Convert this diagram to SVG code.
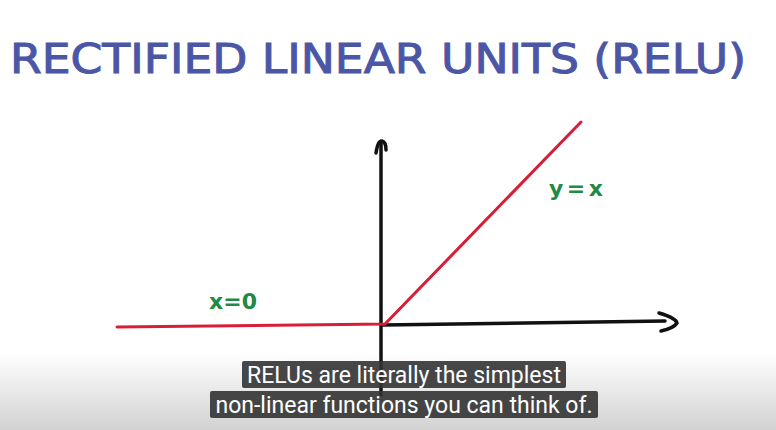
<svg xmlns="http://www.w3.org/2000/svg" width="776" height="430" viewBox="0 0 776 430">
<defs>
<linearGradient id="bg" x1="0" y1="0" x2="0" y2="1">
<stop offset="0" stop-color="#ffffff"/>
<stop offset="0.82" stop-color="#ffffff"/>
<stop offset="1" stop-color="#d2d2d2"/>
</linearGradient>
</defs>
<style>
.title{font-family:"DejaVu Sans",sans-serif;font-size:40px;fill:#4b57a6;stroke:#4b57a6;stroke-width:1;}
.lbl{font-family:"DejaVu Sans",sans-serif;font-weight:bold;font-size:22px;fill:#1f8a45;}
.axis{stroke:#111;stroke-width:3.5;fill:none;stroke-linecap:round;stroke-linejoin:round;}
.relu{stroke:#d81e36;stroke-width:3;fill:none;stroke-linecap:round;stroke-linejoin:round;}
.cap{fill:#333;fill-opacity:0.9;}
.capt{font-family:Roboto,"Liberation Sans",sans-serif;font-size:23px;fill:#fff;}
</style>
<rect width="776" height="430" fill="url(#bg)"/>
<g id="title">
<text class="title" x="10" y="73" textLength="736" lengthAdjust="spacingAndGlyphs">RECTIFIED LINEAR UNITS (RELU)</text>
</g>
<g id="connectors">
<path class="axis" d="M381,395 L381,143"/>
<path class="axis" d="M376,153 Q378,140 382,141 Q386,142 386,150"/>
<path class="axis" d="M383,325 L665,321"/>
<path class="axis" d="M659,313 Q676,318 677,323 Q674,328 661,331"/>
<path class="relu" d="M117,327 L385,324 L581,122"/>
</g>
<g id="label-yx">
<text class="lbl" x="549" y="196" textLength="54">y=x</text>
</g>
<g id="label-x0">
<text class="lbl" x="209" y="309" textLength="48">x=0</text>
</g>
<g id="captions">
<rect class="cap" x="242" y="361" width="324" height="27" rx="2"/>
<rect class="cap" x="210" y="391" width="388" height="27" rx="2"/>
<text class="capt" x="404" y="383" text-anchor="middle">RELUs are literally the simplest</text>
<text class="capt" x="404" y="413" text-anchor="middle">non-linear functions you can think of.</text>
</g>
</svg>
